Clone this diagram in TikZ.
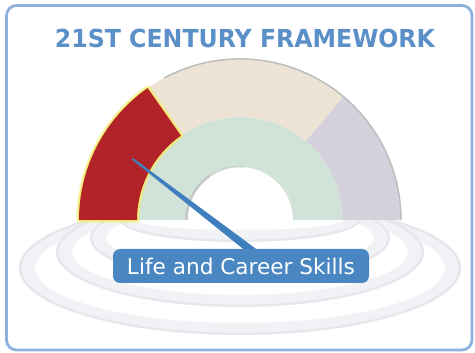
\documentclass[tikz,border=0pt]{standalone}
\usepackage{fontspec}
\setmainfont{DejaVu Sans}
\usetikzlibrary{calc}
\definecolor{framec}{HTML}{8DB2DE}
\definecolor{titlec}{HTML}{5B8FC7}
\definecolor{redc}{HTML}{B22229}
\definecolor{glowc}{HTML}{F2EC6E}
\definecolor{beigec}{HTML}{ECE3D5}
\definecolor{lavc}{HTML}{D4D1DC}
\definecolor{greenc}{HTML}{D1E3D8}
\definecolor{ripc}{HTML}{F1F2F5}
\definecolor{ripedge}{HTML}{E6E7EC}
\definecolor{labc}{HTML}{4A87C2}
\definecolor{pointc}{HTML}{3F7FBE}
\definecolor{shadc}{HTML}{BDBDBD}
\pgfdeclarelayer{back}
\pgfdeclarelayer{mid}
\pgfsetlayers{back,mid,main}
\tikzset{
  framebox/.style={draw=framec, line width=2.8pt, rounded corners=10pt},
  titletext/.style={anchor=south, inner sep=0pt, text=titlec},
  skillbox/.style={fill=labc, rounded corners=7pt, minimum width=256pt, minimum height=34pt, inner sep=0pt, text=white},
  ripband/.style={fill=ripc, even odd rule},
  ripline/.style={draw=ripedge, line width=2.2pt},
  archline/.style={draw=shadc, line width=1.5pt},
}
\begin{document}
\begin{tikzpicture}[x=1pt,y=-1pt]
\useasboundingbox (0,0) rectangle (475,353);
\begin{pgfonlayer}{back}
  \fill[white] (0,0) rectangle (475,353);
  % ripples
  \begin{scope}
    \clip (0,221) rectangle (475,353);
    \foreach \cy/\a/\b in {268/221/67, 252/184/55, 238/150/42, 220/120/22} {
      \fill[ripband] (240,\cy) ellipse [x radius=\a, y radius=\b]
                     (240,\cy) ellipse [x radius=\a-16, y radius=\b-12];
      \draw[ripline] (240,\cy) ellipse [x radius=\a-1.2, y radius=\b-1.2];
    }
  \end{scope}
  % arch
  \begin{scope}[shift={(240,220)}]
    \fill[greenc] (-180:103) arc[start angle=-180,end angle=0,radius=103]
                  -- (0:53) arc[start angle=0,end angle=-180,radius=53] -- cycle;
    \fill[beigec] (-125:161) arc[start angle=-125,end angle=-50,radius=161]
                  -- (-50:103) arc[start angle=-50,end angle=-125,radius=103] -- cycle;
    \fill[lavc] (-50:161) arc[start angle=-50,end angle=0,radius=161]
                -- (0:103) arc[start angle=0,end angle=-50,radius=103] -- cycle;
    \draw[archline] (-118:161) arc[start angle=-118,end angle=0,radius=161];
    \draw[shadc, line width=2.5pt, opacity=.7] (-180:53.5) arc[start angle=-180,end angle=-125,radius=53.5];
    \draw[shadc, line width=2pt, opacity=.35] (-125:53.5) arc[start angle=-125,end angle=-85,radius=53.5];
    \draw[glowc, line width=6pt, opacity=.35, line join=round]
      (-180:161) arc[start angle=-180,end angle=-125,radius=161]
      -- (-125:103) arc[start angle=-125,end angle=-180,radius=103] -- cycle;
    \draw[glowc, line width=3pt, line join=round]
      (-180:161) arc[start angle=-180,end angle=-125,radius=161]
      -- (-125:103) arc[start angle=-125,end angle=-180,radius=103] -- cycle;
    \fill[redc]
      (-180:161) arc[start angle=-180,end angle=-125,radius=161]
      -- (-125:103) arc[start angle=-125,end angle=-180,radius=103] -- cycle;
  \end{scope}
\end{pgfonlayer}
% frame and title
\draw[framebox] (6.5,5.5) rectangle (472,350);
\node[titletext] (title) at (245,48)
  {\resizebox{380pt}{18.4pt}{\fontsize{25}{25}\selectfont\bfseries 21ST CENTURY FRAMEWORK}};
% label and pointer
\coordinate (tip) at (131.5,159.3);
\node[skillbox] (lab) at (241,266)
  {\resizebox{228pt}{!}{\fontsize{22}{22}\selectfont Life and Career Skills}};
\begin{pgfonlayer}{mid}
  \fill[pointc] (tip) -- ++(2,-1) -- ($(lab.north)+(23,6)$) -- ($(lab.north)+(9.5,6)$) -- cycle;
\end{pgfonlayer}
\end{tikzpicture}
\end{document}
